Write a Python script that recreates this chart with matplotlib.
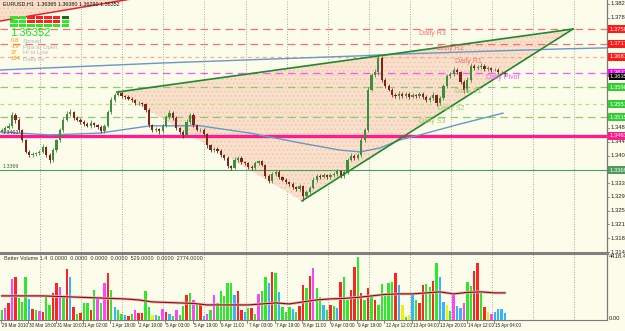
import matplotlib
matplotlib.use('Agg')
import matplotlib.pyplot as plt
import numpy as np
from matplotlib.patches import Polygon, Rectangle
from matplotlib.transforms import blended_transform_factory as blend
from matplotlib.lines import Line2D

plt.rcParams['font.family'] = ['Liberation Sans', 'DejaVu Sans']
plt.rcParams['hatch.linewidth'] = 0.6

# ---------------- data ----------------
title_text = "EURUSD,H1  1.36365 1.36380 1.36290 1.36352"
first_open = 1.3475
close = [1.3480, 1.3485, 1.3491, 1.3521, 1.3507, 1.3480, 1.3452, 1.3419, 1.3411, 1.3413,
         1.3416, 1.3419, 1.3433, 1.3411, 1.3397, 1.3424, 1.3452, 1.3480, 1.3507, 1.3524,
         1.3529, 1.3513, 1.3507, 1.3502, 1.3496, 1.3491, 1.3499, 1.3493, 1.3488, 1.3477,
         1.3491, 1.3529, 1.3562, 1.3576, 1.3582, 1.3573, 1.3571, 1.3565, 1.3562, 1.3554,
         1.3554, 1.3551, 1.3535, 1.3493, 1.3480, 1.3482, 1.3477, 1.3491, 1.3515, 1.3526,
         1.3513, 1.3485, 1.3474, 1.3466, 1.3502, 1.3521, 1.3493, 1.3480, 1.3480, 1.3468,
         1.3438, 1.3424, 1.3427, 1.3422, 1.3411, 1.3402, 1.3380, 1.3375, 1.3397, 1.3402,
         1.3391, 1.3388, 1.3377, 1.3375, 1.3388, 1.3394, 1.3383, 1.3353, 1.3339, 1.3358,
         1.3364, 1.3350, 1.3342, 1.3336, 1.3331, 1.3322, 1.3317, 1.3325, 1.3297, 1.3309,
         1.3320, 1.3342, 1.3353, 1.3350, 1.3355, 1.3350, 1.3355, 1.3358, 1.3366, 1.3353,
         1.3364, 1.3397, 1.3408, 1.3402, 1.3411, 1.3452, 1.3480, 1.3590, 1.3631, 1.3639,
         1.3678, 1.3617, 1.3601, 1.3590, 1.3576, 1.3573, 1.3579, 1.3573, 1.3579, 1.3571,
         1.3576, 1.3573, 1.3579, 1.3571, 1.3562, 1.3568, 1.3576, 1.3554, 1.3568, 1.3601,
         1.3628, 1.3634, 1.3645, 1.3639, 1.3612, 1.3590, 1.3617, 1.3656, 1.3650, 1.3653,
         1.3656, 1.3648, 1.3650, 1.3645, 1.3645, 1.3639, 1.3639, 1.3635]
upper_wick_pips = [6, 5, 8, 9, 4, 5, 3, 4, 6, 5, 4, 6, 7, 3, 5, 6, 4, 5, 7, 8,
                   9, 4, 5, 6, 4, 5, 7, 3, 4, 5, 6, 7, 8, 6, 9, 5, 4, 6, 5, 4,
                   5, 3, 4, 6, 3, 5, 4, 6, 7, 8, 5, 4, 3, 5, 7, 6, 5, 4, 6, 5,
                   3, 4, 6, 5, 4, 3, 5, 4, 7, 6, 5, 4, 3, 6, 5, 4, 3, 4, 5, 7,
                   6, 4, 3, 5, 4, 6, 3, 5, 4, 6, 5, 7, 4, 5, 6, 4, 5, 6, 7, 4,
                   6, 5, 7, 4, 5, 8, 6, 9, 7, 8, 11, 6, 5, 4, 6, 5, 7, 4, 6, 5,
                   6, 4, 5, 6, 4, 5, 7, 4, 6, 5, 7, 6, 8, 5, 4, 6, 8, 9, 5, 6,
                   7, 5, 6, 4, 5, 6, 4, 3]
lower_wick_pips = [5, 6, 4, 5, 7, 6, 5, 4, 6, 5, 6, 5, 4, 7, 9, 5, 4, 6, 5, 4,
                   5, 6, 4, 5, 6, 4, 5, 6, 5, 7, 5, 4, 6, 5, 4, 6, 5, 4, 6, 5,
                   6, 5, 7, 4, 5, 6, 8, 5, 4, 6, 5, 6, 5, 8, 4, 6, 5, 4, 6, 5,
                   7, 5, 4, 6, 5, 4, 6, 5, 4, 6, 5, 6, 4, 5, 6, 5, 4, 6, 7, 5,
                   6, 5, 4, 6, 5, 4, 7, 5, 14, 6, 5, 4, 6, 5, 4, 6, 5, 4, 6, 5,
                   6, 5, 4, 6, 5, 7, 6, 5, 4, 6, 7, 6, 5, 4, 6, 5, 7, 5, 6, 5,
                   4, 6, 5, 7, 6, 5, 6, 8, 5, 7, 6, 5, 6, 5, 7, 8, 6, 5, 6, 5,
                   6, 5, 6, 5, 4, 6, 5, 7]

volume = [700, 840, 1190, 2870, 3010, 1540, 1260, 3010, 1470, 770,
          700, 630, 560, 1750, 1050, 1890, 2590, 2310, 1680, 3570,
          3010, 910, 420, 490, 1190, 1190, 700, 2100, 1610, 1190,
          2590, 3290, 2100, 910, 700, 420, 350, 280, 420, 700,
          490, 490, 2030, 910, 350, 350, 280, 770, 560, 420,
          280, 700, 350, 980, 1750, 1890, 1400, 1050, 1050, 280,
          420, 700, 1750, 1190, 2030, 1680, 2590, 2590, 1750, 2030,
          700, 560, 840, 840, 420, 1820, 2030, 3010, 2590, 3360,
          3290, 1960, 910, 560, 910, 770, 560, 980, 2450, 2240,
          3080, 3640, 2240, 1610, 1050, 700, 1050, 980, 840, 2660,
          3010, 1400, 2100, 3710, 4410, 1890, 1400, 2240, 1680, 1400,
          1050, 2520, 1750, 2590, 2660, 3290, 2450, 1050, 210, 350,
          1820, 1400, 1190, 2450, 2520, 2310, 2730, 3990, 3010, 1260,
          1050, 630, 1820, 980, 840, 1190, 2660, 2380, 3430, 3990,
          1890, 910, 560, 420, 560, 770, 770, 490]
volume_class = ("gmrmrgggbr" "gmrggrrmgr" "brgrggrgmg" "mrgbggbrgm" "rrggybgmrb"
                "gmggrgmgrb" "mgmgggggbr" "rbgrgmggbr" "gbgggbgrrg" "rmggbgrgbr"
                "ggrrgrgrgr" "gggggrbygy" "bgrrggrgbb" "ygmbbmggrr" "grymbbbb")
volume_ma_bar = [0, 4, 8, 12, 16, 20, 24, 28, 32, 36, 40, 44, 48, 52, 56, 60, 64, 68, 72,
                 76, 80, 84, 88, 92, 96, 100, 104, 108, 112, 116, 120, 124, 128, 132,
                 136, 140, 144, 147]
volume_ma = [1680, 1680, 1680, 1680, 1645, 1610, 1575, 1540, 1505, 1470, 1400, 1260,
             1225, 1190, 1155, 1050, 1050, 1050, 1050, 1120, 1190, 1120, 1260, 1400,
             1470, 1505, 1575, 1680, 1785, 1820, 1820, 1890, 1960, 1820, 1925, 1960,
             1890, 1890]
volume_title = "Better Volume 1.4  0.0000  0.0000  0.0000  0.0000  529.0000  0.0000  2774.0000"
volume_max_label = "4418.4"
volume_min_label = "0.00"

# moving averages (hour index, price)
ma_slow_t = [0, 93.5, 210.3, 233.6, 327.1, 354.6]
ma_slow_p = [1.3645, 1.3664, 1.3684, 1.3689, 1.3703, 1.3706]
ma_fast_t = [0, 29.2, 58.4, 87.6, 116.8, 146.0, 175.2, 198.6, 210.3, 222.0, 233.6, 245.3, 268.7, 293.8]
ma_fast_p = [1.3474, 1.3466, 1.3471, 1.3491, 1.3491, 1.3471, 1.3444, 1.3424, 1.3419,
             1.3430, 1.3452, 1.3466, 1.3496, 1.3526]

# pivot levels
level_names = ['Daily R3', 'Daily R2', 'Daily R1', 'Daily Pivot', 'Daily S1', 'Daily S2', 'Daily S3']
level_prices = [1.3758, 1.3717, 1.3681, 1.3637, 1.3598, 1.3551, 1.3515]
level_label_time = [245, 255, 266, 284, 266, 256, 245]
pink_level = 1.3463
green_level = 1.3369
bid_price = 1.36352

# triangle pattern anchors (hour index, price)
tri_t = [68.3, 334.7, 176.4]
tri_p = [1.3584, 1.3758, 1.3284]
red_trend_t = [0, 73, 110]
red_trend_p = [1.3780, 1.3838, 1.3867]

# axis labels
price_ticks = [1.3143 + 0.0038 * k for k in range(19)]
date_labels = ["29 Mar 2010", "30 Mar 18:00", "31 Mar 10:00", "1 Apr 02:00", "1 Apr 18:00",
               "2 Apr 10:00", "5 Apr 03:00", "5 Apr 19:00", "6 Apr 11:00", "7 Apr 03:00",
               "7 Apr 19:00", "8 Apr 11:00", "9 Apr 03:00", "9 Apr 19:00", "12 Apr 12:00",
               "13 Apr 04:00", "13 Apr 20:00", "14 Apr 12:00", "15 Apr 04:00"]
day_grid_t = [23.4 + 24 * k for k in range(14)]

# panel widgets
signal_rows = ["ggrrrrk", "ggrrrrg", "ggggggg"]
info_values = ["0.8", "-19", "37", "164"]
info_names = ["Spread", "Pips to Open", "Hi to Low", "Daily Av"]

# ---------------- drawing ----------------
BG = '#FCFCEA'
W, H = 625, 331
fig = plt.figure(figsize=(W / 100, H / 100), dpi=100, facecolor=BG)


def fx(x):
    return x / W


def fy(y):
    return 1 - y / H


ax = fig.add_axes([0, fy(252), fx(607), 252 / H])
axv = fig.add_axes([0, fy(320), fx(607), 66 / H])
XMAX = 607 / 1.712
for a in (ax, axv):
    a.set_facecolor(BG)
    a.set_xlim(0, XMAX)
    a.set_xticks([])
    a.set_yticks([])
    for s in a.spines.values():
        s.set_visible(False)
    a.spines['right'].set_visible(True)
    a.spines['right'].set_color('#7a7a7a')
    a.spines['right'].set_linewidth(0.9)
ax.set_ylim(1.3143, 1.3838)
axv.set_ylim(0, 4600)
axv.spines['bottom'].set_visible(True)
axv.spines['bottom'].set_color('#7a7a7a')

# vertical day grid
for a in (ax, axv):
    for t in day_grid_t:
        a.axvline(t, color='#8a8a8a', lw=0.6, ls=(0, (1, 2)), zorder=0.5)

# triangle and top-left pattern fill
FILL_FC, FILL_HC = '#F9E0CC', '#F0C7A6'
tri = Polygon(list(zip(tri_t, tri_p)), closed=True, facecolor=FILL_FC,
              edgecolor=FILL_HC, hatch='....', lw=0, zorder=1)
ax.add_patch(tri)
top_fill = Polygon([(red_trend_t[0], red_trend_p[0]), (red_trend_t[2], red_trend_p[2]),
                    (0, red_trend_p[2])], closed=True, facecolor=FILL_FC,
                   edgecolor=FILL_HC, hatch='....', lw=0, zorder=1)
ax.add_patch(top_fill)
ax.plot(red_trend_t, red_trend_p, color='#E8202A', lw=1.1, zorder=4)

# horizontal levels
level_colors = ['#FF6E6E', '#FF6E6E', '#FFA896', '#FF55FF', '#8FCB6A', '#BDE07A', '#8FCB6A']
level_styles = [(0, (6, 4)), (0, (6, 4)), (0, (3, 3)), (0, (6, 4)), (0, (6, 4)), (0, (3, 3)), (0, (6, 4))]
text_colors = ['#F07070', '#F07070', '#F07070', '#FF55FF', '#9CCB6E', '#9CCB6E', '#9CCB6E']
for name, p, c, st, tc, lt in zip(level_names, level_prices, level_colors, level_styles,
                                  text_colors, level_label_time):
    ax.axhline(p, color=c, lw=0.9, ls=st, zorder=2)
    ax.text(lt, p - 0.0002, name, color=tc, fontsize=5, va='top', ha='left', zorder=6)
ax.axhline(pink_level, color='#FF1C8D', lw=2.4, zorder=3)
ax.axhline(green_level, color='#4F9A5E', lw=0.8, zorder=3)
ax.text(1.5, pink_level + 0.00035, f"{pink_level:.4f}", fontsize=3.8, color='#333333', va='bottom', zorder=6)
ax.text(1.5, green_level + 0.00035, f"{green_level:.4f}", fontsize=3.8, color='#2E6B3A', va='bottom', zorder=6)

# moving averages
ax.plot(ma_slow_t, ma_slow_p, color='#6A96C8', lw=1.0, zorder=3)
ax.plot(ma_fast_t, ma_fast_p, color='#6A96C8', lw=1.0, zorder=3)

# triangle edges
ax.plot([tri_t[0], tri_t[1]], [tri_p[0], tri_p[1]], color='#1E8A2E', lw=1.2, zorder=5)
ax.plot([tri_t[2], tri_t[1]], [tri_p[2], tri_p[1]], color='#1E8A2E', lw=1.2, zorder=5)

# candles
c = np.array(close)
o = np.r_[first_open, c[:-1]]
hi = np.maximum(o, c) + np.array(upper_wick_pips) * 1e-4
lo = np.minimum(o, c) - np.array(lower_wick_pips) * 1e-4
t = 2 * np.arange(len(c)) + 1
up = c >= o
bull, bear = '#3E8E3E', '#7E2418'
cols = np.where(up, bull, bear)
ax.vlines(t, lo, hi, colors=cols, lw=0.6, zorder=4)
ax.bar(t, np.maximum(np.abs(c - o), 0.00006), bottom=np.minimum(o, c), width=1.3,
       color=cols, lw=0, zorder=4)

# price axis labels (boxes hide the tick labels they cover)
tr = blend(ax.transAxes, ax.transData)
boxed = level_prices + [pink_level, green_level, bid_price - 0.0009]
for p in price_ticks:
    ax.plot([1.0, 1.004], [p, p], transform=tr, color='#7a7a7a', lw=0.6, clip_on=False)
    if min(abs(p - b) for b in boxed) < 0.0014:
        continue
    ax.text(1.005, p, f"{p:.5f}", transform=tr, fontsize=4.2, color='#222222',
            va='center', ha='left', clip_on=False, zorder=7)

box_colors = ['#FF1A1A', '#FF1A1A', '#FF1A1A', '#FF00FF', '#33CC33', '#33CC33', '#33CC33']
for p, bc in zip(level_prices, box_colors):
    ax.text(1.004, p, f"{p:.5f}", transform=tr, fontsize=4.2, color='white', va='center',
            ha='left', clip_on=False, zorder=9,
            bbox=dict(boxstyle='square,pad=0.2', fc=bc, ec='none'))
ax.text(1.004, bid_price - 0.0009, f"{bid_price:.5f}", transform=tr, fontsize=4.2, color='white',
        va='center', ha='left', clip_on=False, zorder=9,
        bbox=dict(boxstyle='square,pad=0.15', fc='black', ec='none'))
ax.text(1.004, pink_level, f"{pink_level:.5f}", transform=tr, fontsize=4.2, color='white',
        va='center', ha='left', clip_on=False, zorder=9,
        bbox=dict(boxstyle='square,pad=0.2', fc='#FF1C8D', ec='none'))
ax.text(1.004, green_level, f"{green_level:.5f}", transform=tr, fontsize=4.2, color='white',
        va='center', ha='left', clip_on=False, zorder=9,
        bbox=dict(boxstyle='square,pad=0.2', fc='#4F9A5E', ec='none'))

# volume panel
vcols = {'g': '#2EE82E', 'r': '#FF2424', 'b': '#36B4FF', 'm': '#FF44FF', 'y': '#F2F200'}
axv.bar(t, volume, width=1.4, color=[vcols[k] for k in volume_class], lw=0, zorder=2)
ma_t = 2 * np.array(volume_ma_bar) + 1
axv.plot(ma_t, volume_ma, color='#E4B4B4', lw=2.0, zorder=3, solid_capstyle='round')
axv.plot(ma_t, volume_ma, color='#8B0A0A', lw=0.8, zorder=4)

# panel separator
fig.add_artist(Line2D([0, fx(607)], [fy(253), fy(253)], color='#808080', lw=2.2))

fig.text(fx(4), fy(258), volume_title, fontsize=3.9, color='#333333', va='center', ha='left')
fig.text(fx(609), fy(257), volume_max_label, fontsize=4.2, color='#222222', va='center', ha='left')
fig.text(fx(609), fy(318), volume_min_label, fontsize=4.2, color='#222222', va='center', ha='left')

# date labels
trv = blend(axv.transData, axv.transAxes)
for k, lbl in enumerate(date_labels):
    x0 = 16 * k
    axv.plot([x0 + 0.5, x0 + 0.5], [0, -0.05], transform=trv, color='#7a7a7a', lw=0.6, clip_on=False)
    axv.text(x0 + 1.2, -0.04, lbl, transform=trv, fontsize=3.3, color='#222222',
             va='top', ha='left', clip_on=False)

# top-left widgets
fig.text(fx(3), fy(4), title_text, fontsize=3.9, color='#111111', va='center', ha='left')
cell_cols = {'g': '#2EE82E', 'r': '#FF2020', 'k': '#1E6B1E'}
cell_x = [10, 18.5, 27, 35.5, 44, 52.5, 61.5]
for r, row in enumerate(signal_rows):
    y0 = 16 + 4 * r
    for x0, ch in zip(cell_x, row):
        fig.add_artist(Rectangle((fx(x0), fy(y0 + 3)), fx(7.5), 3 / H,
                                 transform=fig.transFigure, fc=cell_cols[ch], ec='none'))
fig.text(fx(10), fy(32.5), f"{bid_price:.5f}", fontsize=8, color='#22E022', va='center', ha='left')
for k, (v, n) in enumerate(zip(info_values, info_names)):
    yy = 41 + 6 * k
    fig.text(fx(11), fy(yy), v, fontsize=4.3, color='#FF9900', va='center', ha='left')
    fig.text(fx(23), fy(yy), n, fontsize=4.3, color='#B8B8B8', va='center', ha='left')

fig.savefig('out.png', dpi=100, facecolor=BG)
